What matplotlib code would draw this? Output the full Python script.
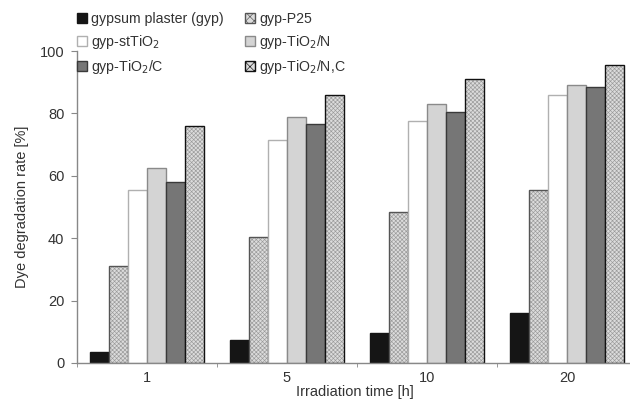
import numpy as np
import matplotlib
matplotlib.use("Agg")
import matplotlib.pyplot as plt

# data
times = ["1", "5", "10", "20"]
labels = ["gypsum plaster (gyp)", "gyp-P25", "gyp-stTiO$_2$",
          "gyp-TiO$_2$/N", "gyp-TiO$_2$/C", "gyp-TiO$_2$/N,C"]
gyp = [3.5, 7.3, 9.5, 16.0]
p25 = [31.0, 40.5, 48.5, 55.5]
st_tio2 = [55.5, 71.5, 77.5, 86.0]
tio2_n = [62.5, 79.0, 83.0, 89.0]
tio2_c = [58.0, 76.5, 80.5, 88.5]
tio2_nc = [76.0, 86.0, 91.0, 95.5]

plt.rcParams['font.family'] = ['Liberation Sans', 'DejaVu Sans']
plt.rcParams['hatch.linewidth'] = 0.45
text_col = "#333333"

# (face, edge, hatch)
styles = [
    ("#151515", "#151515", None),
    ("#dcdcdc", "#555555", "xxxxxxxx"),
    ("#ffffff", "#b0b0b0", None),
    ("#d4d4d4", "#8a8a8a", None),
    ("#767676", "#3a3a3a", None),
    ("#dcdcdc", "#111111", "xxxxxxxx"),
]
series = [gyp, p25, st_tio2, tio2_n, tio2_c, tio2_nc]

fig = plt.figure(figsize=(6.3, 4.09), dpi=100)
ax = fig.add_axes([77 / 630, 46 / 409, 560 / 630, 312 / 409])

x = np.arange(len(times))
w = 0.135
handles = []
for i, (vals, (fc, ec, h)) in enumerate(zip(series, styles)):
    pos = x + (i - 2.5) * w
    if h:
        ax.bar(pos, vals, w, color=fc, edgecolor="#9a9a9a", hatch=h, linewidth=0)
        ax.bar(pos, vals, w, fill=False, edgecolor=ec, linewidth=1.0)
        hd = plt.Rectangle((0, 0), 1, 1, facecolor=fc, edgecolor=ec, hatch="xxxx", linewidth=1.0)
    else:
        ax.bar(pos, vals, w, color=fc, edgecolor=ec, linewidth=1.0)
        hd = plt.Rectangle((0, 0), 1, 1, facecolor=fc, edgecolor=ec, linewidth=1.0)
    handles.append(hd)

ax.set_xlim(-0.5, 3.5)
ax.set_ylim(0, 100)
ax.set_yticks(range(0, 101, 20))
ax.set_xticks(x)
ax.set_xticklabels(times)
ax.set_xticks(np.arange(-0.5, 4.0, 1.0), minor=True)
ax.tick_params(axis="x", which="major", length=0, pad=6, labelsize=10.5, labelcolor=text_col)
ax.tick_params(axis="x", which="minor", length=3, color="#888888", direction="out")
ax.tick_params(axis="y", length=4, color="#888888", labelsize=10.5, labelcolor=text_col, pad=5)

for s in ["top", "right"]:
    ax.spines[s].set_visible(False)
for s in ["left", "bottom"]:
    ax.spines[s].set_color("#888888")
    ax.spines[s].set_linewidth(1.0)

ax.set_ylabel("Dye degradation rate [%]", fontsize=10.5, color=text_col, labelpad=8)
ax.set_xlabel("Irradiation time [h]", fontsize=10.5, color=text_col, labelpad=1)
ax.xaxis.set_label_coords(278 / 560, -0.07)

order = [0, 2, 4, 1, 3, 5]
fig.legend([handles[i] for i in order], [labels[i] for i in order],
           ncol=2, loc="upper left", bbox_to_anchor=(77 / 630, 1 - 12 / 409),
           frameon=False, fontsize=10.2, handlelength=0.7, handleheight=0.7,
           handletextpad=0.3, columnspacing=1.5, labelspacing=0.5,
           borderpad=0, borderaxespad=0, labelcolor=text_col)

fig.savefig("out.png", dpi=100)
